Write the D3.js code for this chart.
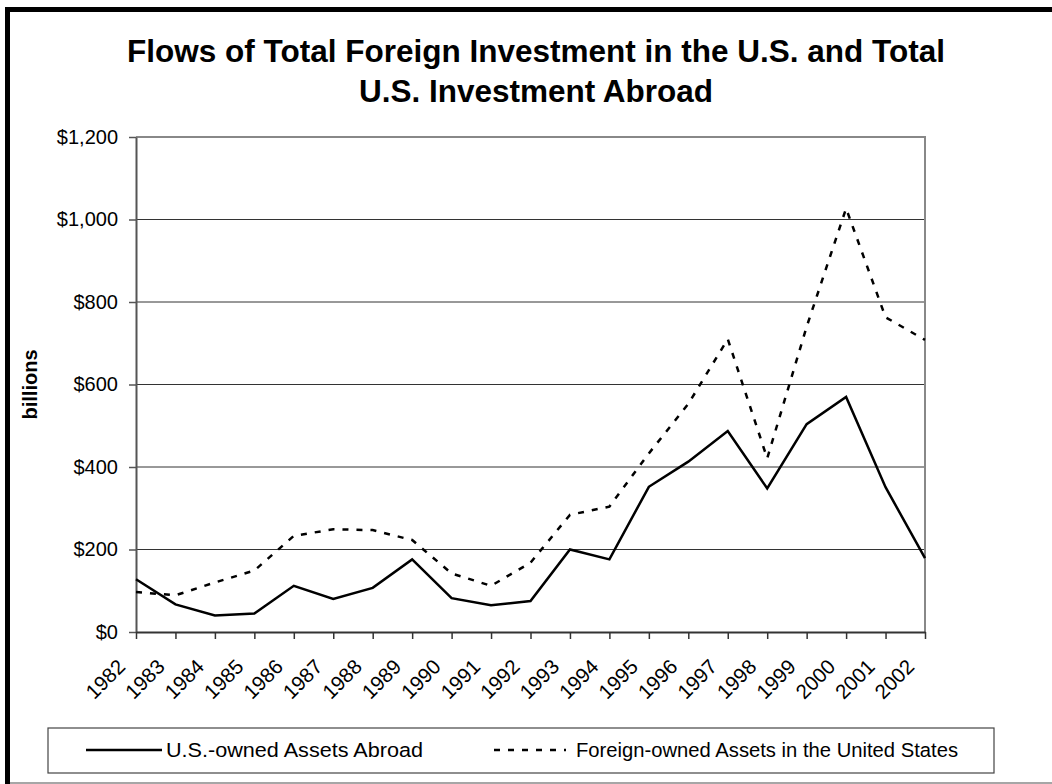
<!DOCTYPE html>
<html><head><meta charset="utf-8">
<script src="https://cdn.jsdelivr.net/npm/d3@7"></script>
<style>
body{margin:0;background:#fff}
text{font-family:Arial,"Liberation Sans",sans-serif;fill:#000}
</style>
</head><body>
<svg id="c" width="1052" height="784"></svg>
<script>
const years = ["1982","1983","1984","1985","1986","1987","1988","1989","1990","1991","1992","1993","1994","1995","1996","1997","1998","1999","2000","2001","2002"];
const usOwned = [128,67,40,45,112,80,107,176,82,65,75,200,176,352,413,487,348,504,570,351,179];
const foreignOwned = [97,89,120,149,233,249,247,223,142,112,168,284,304,433,553,710,421,740,1027,763,708];
const yTicks = [0,200,400,600,800,1000,1200];
const titleLines = ["Flows of Total Foreign Investment in the U.S. and Total","U.S. Investment Abroad"];
const seriesNames = ["U.S.-owned Assets Abroad","Foreign-owned Assets in the United States"];
const yLabel = "billions";

const svg = d3.select("#c");
const W = 1052, H = 784;
const plot = {l:136, r:925, t:137, b:632};

svg.append("rect").attr("width",W).attr("height",H).attr("fill","#fff");
// outer frame
svg.append("line").attr("x1",7.5).attr("x2",7.5).attr("y1",7).attr("y2",784).attr("stroke","#000").attr("stroke-width",5);
svg.append("line").attr("x1",5).attr("x2",W).attr("y1",9.5).attr("y2",9.5).attr("stroke","#000").attr("stroke-width",5);
svg.append("line").attr("x1",10).attr("x2",W).attr("y1",783).attr("y2",783).attr("stroke","#888").attr("stroke-width",1.5);

// title
svg.append("text").attr("x",536).attr("text-anchor","middle")
  .style("font-weight","bold").style("font-size","31.5px")
  .selectAll("tspan").data(titleLines).join("tspan")
  .attr("x",536).attr("y",(d,i)=>62+i*40).text(d=>d);

const x = d3.scalePoint().domain(years).range([plot.l, plot.r]);
const y = d3.scaleLinear().domain([0,1200]).range([plot.b, plot.t]);

// gridlines
svg.append("g").selectAll("line").data(yTicks.filter(d=>d>0)).join("line")
  .attr("x1",plot.l).attr("x2",plot.r).attr("y1",d=>y(d)).attr("y2",d=>y(d))
  .attr("stroke","#333").attr("stroke-width",1);
// plot border top/right
svg.append("path").attr("d",`M${plot.l},${plot.t}H${plot.r}V${plot.b}`)
  .attr("fill","none").attr("stroke","#888").attr("stroke-width",2);

// y axis
const ya = svg.append("g").attr("transform",`translate(${plot.l},0)`)
  .call(d3.axisLeft(y).tickValues(yTicks).tickFormat(d=>"$"+d3.format(",")(d)).tickSize(7).tickPadding(11).tickSizeOuter(0));
ya.select(".domain").attr("stroke","#555").attr("stroke-width",2);
ya.selectAll(".tick line").attr("stroke","#555").attr("stroke-width",1.5);
ya.selectAll("text").style("font-size","20px").attr("fill","#000").attr("font-family",null);

// x axis
const xa = svg.append("g").attr("transform",`translate(0,${plot.b})`)
  .call(d3.axisBottom(x).tickSize(7).tickSizeOuter(0));
xa.select(".domain").attr("stroke","#333").attr("stroke-width",2);
xa.selectAll(".tick line").attr("stroke","#333").attr("stroke-width",1.5);
xa.selectAll("text").style("font-size","20.5px").attr("fill","#000").attr("font-family",null)
  .attr("text-anchor","end").attr("dy",null).attr("y",null)
  .attr("transform","translate(-10,36) rotate(-45)");

// y label
svg.append("text").attr("transform",`translate(37,${(plot.t+plot.b)/2}) rotate(-90)`)
  .attr("text-anchor","middle").style("font-weight","bold").style("font-size","20px").text(yLabel);

// lines
const line = d3.line().x((d,i)=>x(years[i])).y(d=>y(d));
svg.append("path").datum(foreignOwned).attr("d",line).attr("fill","none")
  .attr("stroke","#000").attr("stroke-width",2.5).attr("stroke-dasharray","6,8");
svg.append("path").datum(usOwned).attr("d",line).attr("fill","none")
  .attr("stroke","#000").attr("stroke-width",2.5).attr("stroke-linejoin","miter");

// legend
const lg = svg.append("g");
lg.append("rect").attr("x",48).attr("y",728).attr("width",946).attr("height",45)
  .attr("fill","#fff").attr("stroke","#444").attr("stroke-width",1.2);
lg.append("line").attr("x1",86).attr("x2",162).attr("y1",750).attr("y2",750).attr("stroke","#000").attr("stroke-width",2.5);
lg.append("text").attr("x",166).attr("y",757).style("font-size","20.5px")
  .attr("textLength",257).attr("lengthAdjust","spacingAndGlyphs").text(seriesNames[0]);
lg.append("line").attr("x1",494).attr("x2",566).attr("y1",750).attr("y2",750).attr("stroke","#000").attr("stroke-width",2.5).attr("stroke-dasharray","6,8");
lg.append("text").attr("x",576).attr("y",757).style("font-size","20.5px")
  .attr("textLength",382).attr("lengthAdjust","spacingAndGlyphs").text(seriesNames[1]);
</script>
</body></html>
